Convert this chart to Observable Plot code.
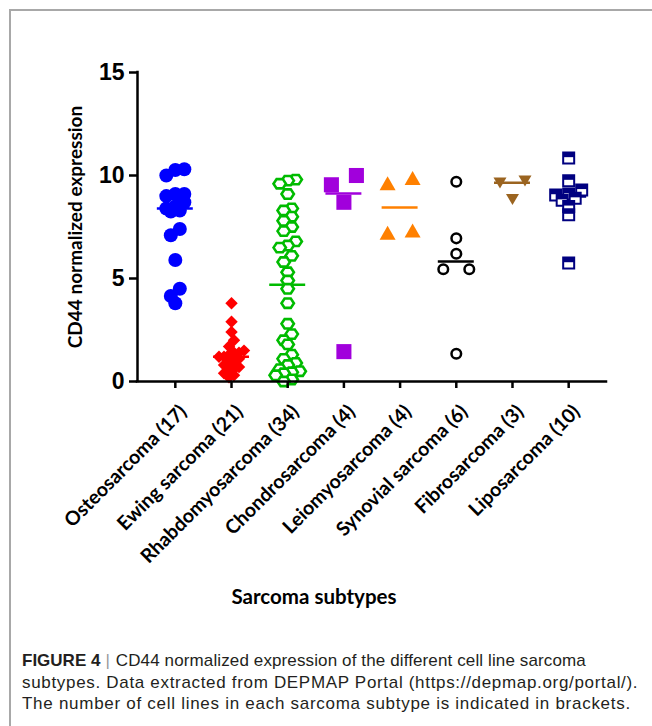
<!DOCTYPE html>
<html><head><meta charset="utf-8">
<script src="https://cdn.jsdelivr.net/npm/d3@7"></script>
<script src="https://cdn.jsdelivr.net/npm/@observablehq/plot@0.6"></script>
<style>
html,body{margin:0;padding:0;background:#fff;}
body{width:652px;height:726px;position:relative;overflow:hidden;}
#frame{position:absolute;left:9px;top:9px;width:700px;height:800px;border-top:2px solid #a8a8a8;border-left:2px solid #a8a8a8;}
#chart{position:absolute;left:0;top:0;}
#caption{position:absolute;left:22px;top:650px;white-space:nowrap;font-family:"Liberation Sans",Arial,sans-serif;font-size:17px;line-height:21.5px;color:#231f20;}
#caption span{display:block;}
#caption .l1{letter-spacing:0.12px;}
#caption .l2{letter-spacing:0.68px;}
#caption .l3{letter-spacing:0.72px;}
#caption b{letter-spacing:0;}
#caption i{font-style:normal;color:#999;padding:0 6px 0 5px;letter-spacing:0;}
</style></head><body>
<div id="frame"></div>
<div id="chart"></div>
<div id="caption"><span class="l1"><b>FIGURE 4</b><i>|</i>CD44 normalized expression of the different cell line sarcoma</span><span class="l2">subtypes. Data extracted from DEPMAP Portal (https://depmap.org/portal/).</span><span class="l3">The number of cell lines in each sarcoma subtype is indicated in brackets.</span></div>
<script>
const categories = ["Osteosarcoma (17)", "Ewing sarcoma (21)", "Rhabdomyosarcoma (34)", "Chondrosarcoma (4)",
  "Leiomyosarcoma (4)", "Synovial sarcoma (6)", "Fibrosarcoma (3)", "Liposarcoma (10)"];
const yTicks = [0, 5, 10, 15];

const osteosarcoma = [10.27, 10.3, 10.0, 9.1, 9.1, 9.0, 8.7, 8.5, 8.4, 8.3, 8.25, 7.4, 7.1, 5.9, 4.5, 4.15, 3.8];
const ewing = [3.8, 2.9, 2.4, 2.0, 1.7, 1.5, 1.4, 1.4, 1.3, 1.2, 1.2, 1.1, 1.0, 0.9, 0.8, 0.7, 0.6, 0.5, 0.4, 0.3, 0.2];
const rhabdomyosarcoma = [9.8, 9.75, 9.6, 9.1, 8.4, 8.3, 8.0, 7.8, 7.5, 7.3, 6.8, 6.6, 6.5, 6.1, 5.8, 5.3, 4.9,
  4.5, 3.8, 2.8, 2.3, 2.0, 1.8, 1.3, 1.1, 0.9, 0.8, 0.6, 0.5, 0.45, 0.4, 0.3, 0.1, 0.0];
const chondrosarcoma = [10.0, 9.55, 8.7, 1.45];
const leiomyosarcoma = [9.85, 9.6, 7.3, 7.2];
const synovial = [9.7, 6.95, 6.2, 5.45, 5.45, 1.35];
const fibrosarcoma = [9.75, 9.65, 8.85];
const liposarcoma = [10.85, 9.75, 9.3, 9.1, 9.05, 8.9, 8.8, 8.5, 8.1, 5.75];

const groups = [osteosarcoma, ewing, rhabdomyosarcoma, chondrosarcoma, leiomyosarcoma, synovial, fibrosarcoma, liposarcoma];
const colors = ["#0000ff", "#ff0000", "#00bb00", "#a100dc", "#ff8000", "#000000", "#9b6420", "#000080"];

// custom symbols
const hexFlat = {draw(c, s) { const R = Math.sqrt(s / Math.PI), h = 0.75 * R;
  c.moveTo(-R, 0); c.lineTo(-R / 2, -h); c.lineTo(R / 2, -h); c.lineTo(R, 0); c.lineTo(R / 2, h); c.lineTo(-R / 2, h); c.closePath(); }};
const triUp = {draw(c, s) { const R = Math.sqrt(s / Math.PI);
  c.moveTo(0, -0.94 * R); c.lineTo(R, 0.81 * R); c.lineTo(-R, 0.81 * R); c.closePath(); }};
const triDown = {draw(c, s) { const R = Math.sqrt(s / Math.PI);
  c.moveTo(-R, -0.8 * R); c.lineTo(R, -0.8 * R); c.lineTo(0, 0.9 * R); c.closePath(); }};
const sq = {draw(c, s) { const R = Math.sqrt(s / Math.PI);
  c.moveTo(-R, -R); c.lineTo(R, -R); c.lineTo(R, R); c.lineTo(-R, R); c.closePath(); }};
const sqBand = {draw(c, s) { const R = Math.sqrt(s / Math.PI);
  c.moveTo(-R, -R); c.lineTo(R, -R); c.lineTo(R, -0.15 * R); c.lineTo(-R, -0.15 * R); c.closePath(); }};

// layout of the scales
const W = 652, H = 620, mL = 137, mR = 46, mT = 72, mB = 239;
const X0 = -0.673, X1 = 7.673;
const kx = (W - mL - mR) / (X1 - X0), ky = (H - mT - mB) / 15;

// scatter-dot-plot layout: values binned into rows, each row spread symmetrically
function rows(values, rowH, spacing) {
  const order = d3.range(values.length).sort((a, b) => d3.descending(values[a], values[b]));
  const off = new Array(values.length);
  let k = 0;
  while (k < order.length) {
    const top = values[order[k]];
    const row = [];
    while (k < order.length && (top - values[order[k]]) * ky < rowH) row.push(order[k++]);
    row.sort((a, b) => d3.ascending(values[a], values[b]));
    row.forEach((idx, j) => { off[idx] = (j - (row.length - 1) / 2) * spacing / kx; });
  }
  return off;
}
const rowHeights = [8, 7, 8, 12, 10, 10, 10, 8];
const spacings = [9, 5, 8, 25, 25, 26, 25, 13];
const pts = groups.map((vals, i) => { const o = rows(vals, rowHeights[i], spacings[i]); return vals.map((v, j) => ({i, v, x: i + o[j]})); });
const medians = groups.map((vals, i) => ({i, m: d3.median(vals), color: colors[i]}));

const styles = [
  {symbol: "circle", r: 7, fill: colors[0]},
  {symbol: "diamond2", r: 5.6, fill: colors[1]},
  {symbol: hexFlat, r: 6.2, fill: "white", stroke: colors[2], strokeWidth: 2.6},
  {symbol: "square", r: 8.5, fill: colors[3]},
  {symbol: triUp, r: 8, fill: colors[4]},
  {symbol: "circle", r: 4.8, fill: "white", stroke: colors[5], strokeWidth: 2.5},
  {symbol: triDown, r: 6.5, fill: colors[6]},
  {symbol: sq, r: 5.5, fill: "white", stroke: colors[7], strokeWidth: 2}
];

const marks = [
  Plot.ruleY(medians, {x1: d => d.i - 0.32, x2: d => d.i + 0.32, y: "m", stroke: "color", strokeWidth: 2.5}),
  ...pts.map((p, i) => Plot.dot(p, {x: "x", y: "v", ...styles[i]})),
  Plot.dot(pts[7], {x: "x", y: "v", symbol: sqBand, r: 5.5, fill: colors[7]}),
  Plot.ruleY([0], {strokeWidth: 2.5, strokeLinecap: "square"}),
  Plot.ruleX([X0], {strokeWidth: 2.5, strokeLinecap: "square"}),
  Plot.axisY({ticks: yTicks, tickSize: 8, tickPadding: 5, strokeWidth: 2.5, label: null,
    fontSize: 23, fontWeight: "bold", fontFamily: "Liberation Sans, Arial, sans-serif"}),
  Plot.axisX({ticks: d3.range(categories.length), tickFormat: () => "", tickSize: 7, strokeWidth: 2.5, label: null}),
  Plot.axisX({ticks: d3.range(categories.length), tickFormat: i => categories[i], tickRotate: -45,
    tickSize: 0, tickPadding: 27, dx: 8, label: null, fontSize: 19.5, fontWeight: "bold"}),
  Plot.text(["CD44 normalized expression"], {frameAnchor: "left", textAnchor: "middle", rotate: -90, dx: -62, fontSize: 19, fontWeight: "bold"}),
  Plot.text(["Sarcoma subtypes"], {frameAnchor: "bottom", dx: -58, dy: 222, fontSize: 20.5, fontWeight: "bold"})
];

const chart = Plot.plot({
  width: W, height: H, marginLeft: mL, marginRight: mR, marginTop: mT, marginBottom: mB,
  x: {domain: [X0, X1], axis: null},
  y: {domain: [0, 15], axis: null},
  color: {type: "identity"},
  style: {fontFamily: "Lato, sans-serif", background: "transparent", color: "black", overflow: "visible"},
  marks
});
document.getElementById("chart").appendChild(chart);
</script>
</body></html>
